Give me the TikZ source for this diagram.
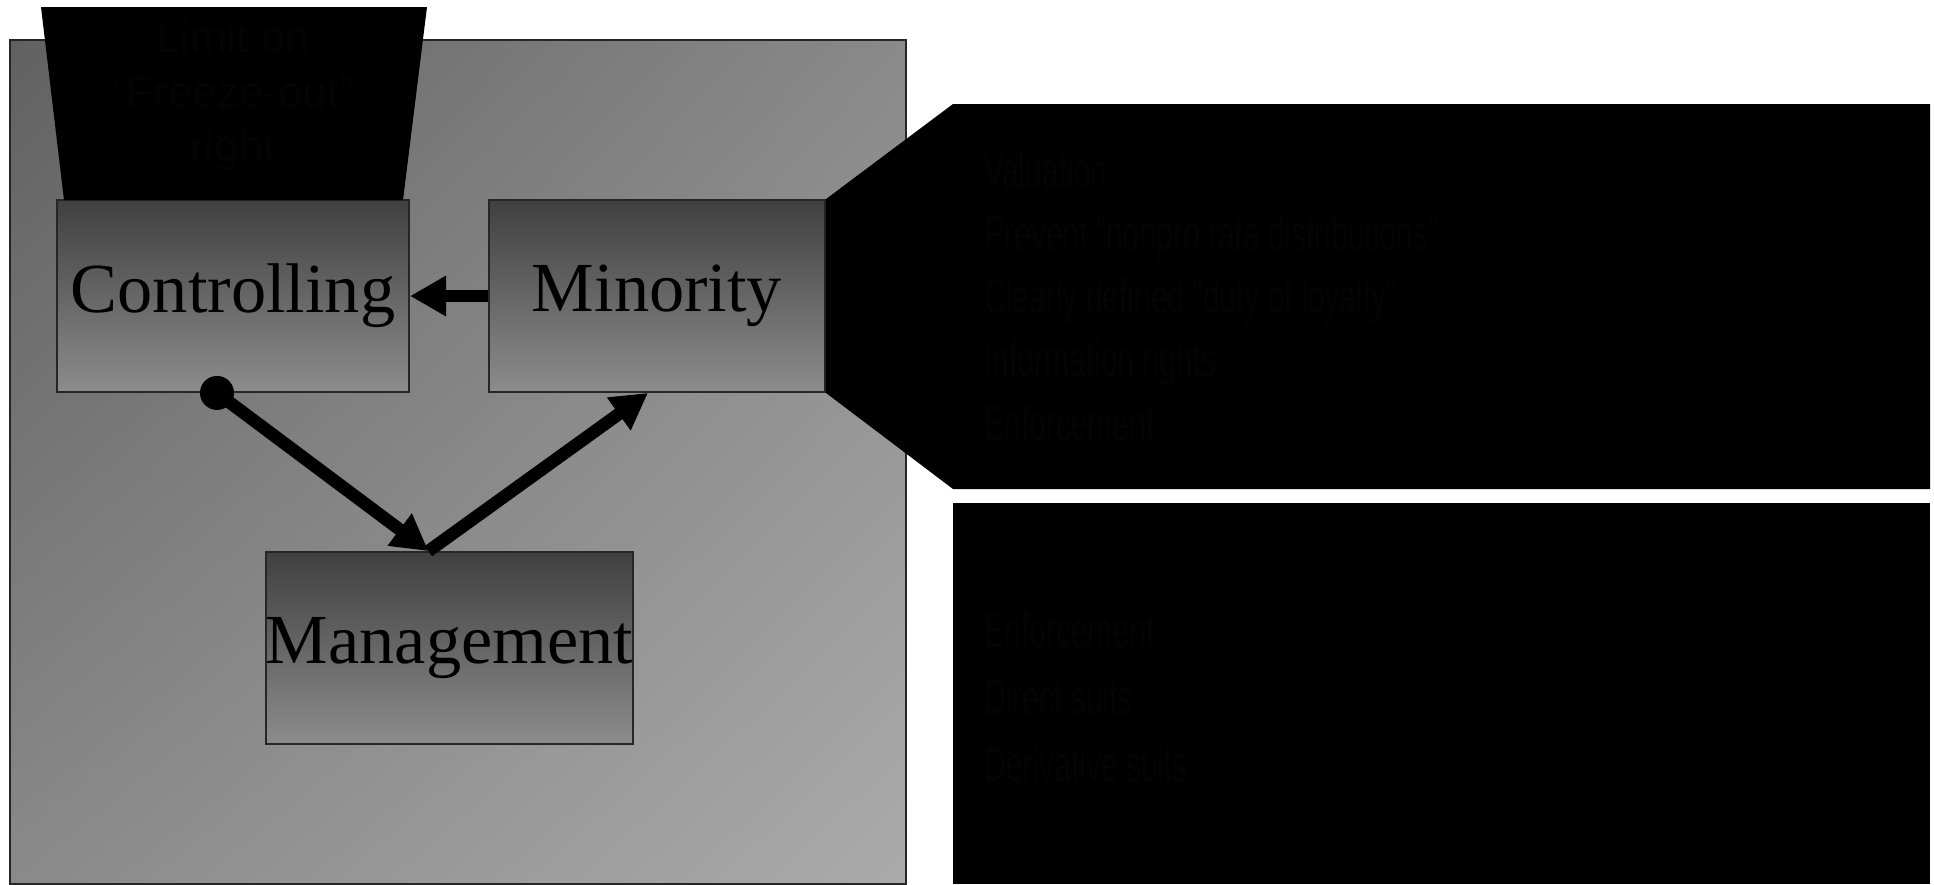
\documentclass[tikz,border=0pt]{standalone}
\usepackage{fontspec}
\setmainfont{Liberation Serif}
\newfontfamily\narrowfont[FakeStretch=0.61]{Liberation Sans}
\newfontfamily\plainfont{Liberation Sans}
\usetikzlibrary{positioning}
\usetikzlibrary{arrows.meta}
\usetikzlibrary{shadings}
\usetikzlibrary{calc}
\definecolor{hidden}{HTML}{040404}

\begin{document}
\begin{tikzpicture}[x=0.01cm, y=-0.01cm,
    party/.style={draw=black!85, line width=0.5pt, top color=black!75, bottom color=black!45,
        minimum height=1.92cm, inner sep=0pt, font=\fontsize{20}{24}\selectfont},
    link/.style={line width=3.6pt, -{Triangle[length=0.36cm, width=0.38cm]}},
    hiddentext/.style={text=hidden, align=left, font=\narrowfont\fontsize{14}{18}\selectfont}]
    \useasboundingbox (0,0) rectangle (1934,884);

    % Shaded panel behind the three parties
    \shade[draw=black!85, line width=0.5pt, upper left=black!62, upper right=black!46,
        lower left=black!46, lower right=black!33] (10,40) rectangle (906,884);

    % The three parties
    \node[party, minimum width=3.52cm] (ctrl) at (233,296) {Controlling};
    \node[party, minimum width=3.36cm] (mino) at (657,296) {Minority};
    \node[party, minimum width=3.67cm] (mgmt) at (449.5,648) {Management};

    % Label over the controlling party
    \fill[black] (41,7) -- (427,7) -- (403,200) -- (64,200) -- cycle;
    \node[hiddentext, align=center, font=\plainfont\fontsize{12.5}{15.5}\selectfont] (limit) at (233,96)
        {Limit on\\“Freeze-out”\\right};

    % Callout from the minority
    \fill[black] (mino.north east) -- (953,104) -- (1930,104) -- (1930,489) -- (953,489) -- (mino.south east) -- cycle;
    \node[hiddentext, anchor=west] (protect) at (972,296)
        {Valuation\\Prevent “nonpro rata distributions”\\Clearly defined “duty of loyalty”\\Information rights\\Enforcement};

    \fill[black] (953,503) rectangle (1930,884);
    \node[hiddentext, anchor=west, font=\narrowfont\fontsize{14}{19}\selectfont] (suits) at (972,697)
        {Enforcement\\Direct suits\\Derivative suits};

    % Connectors
    \node[circle, fill, inner sep=0pt, minimum size=0.34cm] (dot) at ($(ctrl.south)+(-16,0)$) {};
    \coordinate (meet) at ($(mgmt.north)+(-21,0)$);
    \draw[link] (mino.west) -- (ctrl.east);
    \draw[link] (dot.center) -- (meet);
    \draw[link] (meet) -- ($(mino.south)+(-9,0)$);
\end{tikzpicture}
\end{document}
